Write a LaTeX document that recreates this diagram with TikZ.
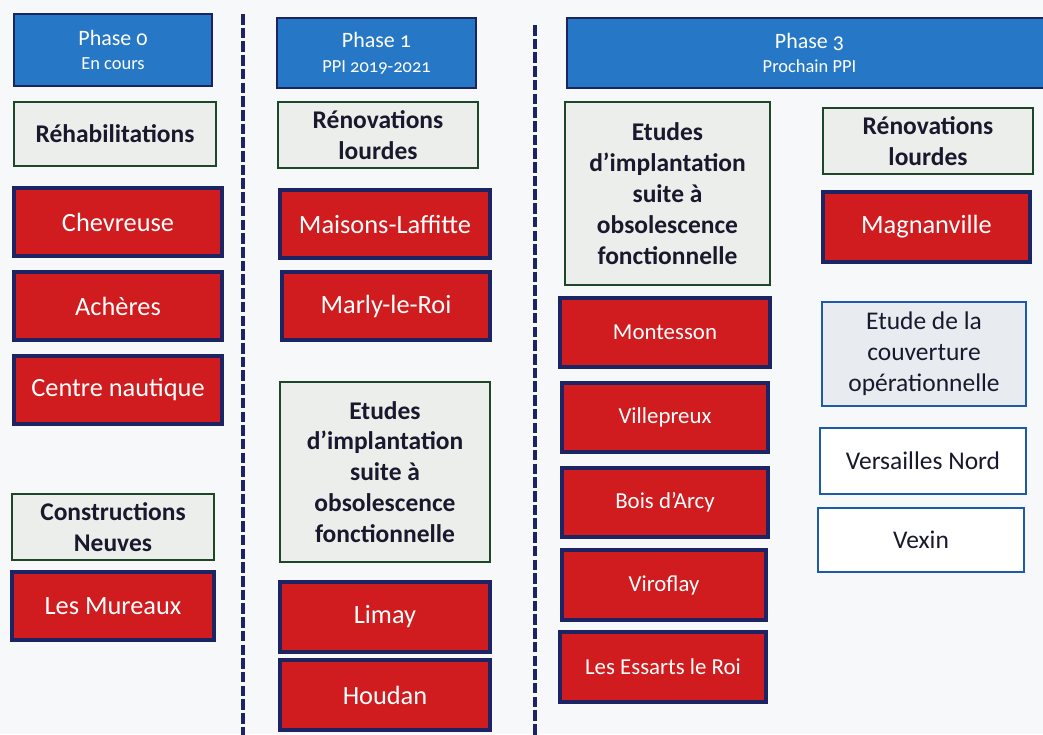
\documentclass[tikz,border=0pt]{standalone}
\usepackage{fontspec}
\setmainfont{Carlito}
\newfontfamily\headfont[Numbers=OldStyle]{Carlito}
\usepackage{tikz}

\definecolor{phaseblue}{RGB}{38,120,198}
\definecolor{navyline}{RGB}{28,36,100}
\definecolor{sitered}{RGB}{208,28,30}
\definecolor{studygray}{RGB}{236,238,235}
\definecolor{studygreen}{RGB}{30,70,40}
\definecolor{coverblue}{RGB}{30,90,170}
\definecolor{covergray}{RGB}{232,235,240}
\definecolor{textnavy}{RGB}{25,25,45}
\definecolor{pagebg}{RGB}{247,248,250}

\begin{document}
\begin{tikzpicture}[
    phase/.style={draw=navyline, fill=phaseblue, line width=1.6pt, text=white, align=center,
      font=\headfont\fontsize{12.5}{14}\selectfont, inner sep=0pt},
    site/.style={draw=navyline, fill=sitered, line width=1.8pt, text=white, align=center,
      font=\fontsize{15}{17.6}\selectfont, inner sep=0pt},
    smallsite/.style={site, font=\fontsize{13}{15}\selectfont},
    study/.style={draw=studygreen, fill=studygray, line width=1.6pt, text=textnavy, align=center,
      font=\bfseries\fontsize{14.5}{17.6}\selectfont, inner sep=0pt},
    cover/.style={study, draw=coverblue, fill=covergray, font=\fontsize{14.5}{17.6}\selectfont},
    station/.style={cover, fill=white},
    divider/.style={draw=navyline, line width=2.4pt, dash pattern=on 6pt off 1.8pt}
  ]
  \fill[pagebg] (0,0) rectangle (20.86,-14.68);
  \useasboundingbox (0,0) rectangle (20.86,-14.68);

  % separators between phases
  \coordinate (d1top) at (4.86,-0.28);
  \coordinate (d1bot) at (4.86,-14.80);
  \coordinate (d2top) at (10.70,-0.50);
  \coordinate (d2bot) at (10.70,-14.80);
  \draw[divider] (d1top) -- (d1bot);
  \draw[divider] (d2top) -- (d2bot);

  % phase 0
  \node[phase, minimum width=3.96cm, minimum height=1.44cm] (head0) at (2.26,-1.00)
    {Phase 0\\{\fontsize{10.5}{12}\selectfont En cours}};
  \node[study, minimum width=4.04cm, minimum height=1.28cm] (rehab) at (2.30,-2.68) {Réhabilitations};
  \node[site, minimum width=4.16cm, minimum height=1.36cm] (chevreuse) at (2.36,-4.44) {Chevreuse};
  \node[site, minimum width=4.16cm, minimum height=1.36cm] (acheres) at (2.36,-6.12) {Achères};
  \node[site, minimum width=4.16cm, minimum height=1.36cm] (nautique) at (2.36,-7.80) {Centre nautique};
  \node[study, minimum width=4.04cm, minimum height=1.32cm] (neuves) at (2.26,-10.54) {Constructions\\Neuves};
  \node[site, minimum width=4.04cm, minimum height=1.36cm] (mureaux) at (2.26,-12.12) {Les Mureaux};

  % phase 1
  \node[phase, minimum width=3.98cm, minimum height=1.40cm] (head1) at (7.53,-1.06)
    {Phase 1\\{\fontsize{10.5}{12}\selectfont PPI 2019-2021}};
  \node[study, minimum width=4.00cm, minimum height=1.32cm] (reno1) at (7.56,-2.70) {Rénovations\\lourdes};
  \node[site, minimum width=4.20cm, minimum height=1.36cm] (maisons) at (7.70,-4.48) {Maisons-Laffitte};
  \node[site, minimum width=4.16cm, minimum height=1.36cm] (marly) at (7.72,-6.12) {Marly-le-Roi};
  \node[study, minimum width=4.20cm, minimum height=3.60cm] (etudes1) at (7.70,-9.44)
    {Etudes\\d’implantation\\suite à\\obsolescence\\fonctionnelle};
  \node[site, minimum width=4.20cm, minimum height=1.40cm] (limay) at (7.70,-12.34) {Limay};
  \node[site, minimum width=4.20cm, minimum height=1.40cm] (houdan) at (7.70,-13.90) {Houdan};

  % phase 3
  \node[phase, minimum width=9.70cm, minimum height=1.40cm] (head3) at (16.19,-1.06)
    {Phase 3\\{\fontsize{10.5}{12}\selectfont Prochain PPI}};
  \node[study, minimum width=4.10cm, minimum height=3.66cm] (etudes3) at (13.35,-3.87)
    {Etudes\\d’implantation\\suite à\\obsolescence\\fonctionnelle};
  \node[smallsite, minimum width=4.20cm, minimum height=1.38cm] (montesson) at (13.30,-6.65) {Montesson};
  \node[smallsite, minimum width=4.12cm, minimum height=1.38cm] (villepreux) at (13.30,-8.35) {Villepreux};
  \node[smallsite, minimum width=4.12cm, minimum height=1.38cm] (boisdarcy) at (13.30,-10.05) {Bois d’Arcy};
  \node[smallsite, minimum width=4.08cm, minimum height=1.40cm] (viroflay) at (13.28,-11.70) {Viroflay};
  \node[smallsite, minimum width=4.12cm, minimum height=1.40cm] (essarts) at (13.26,-13.34) {Les Essarts le Roi};
  \node[study, minimum width=4.20cm, minimum height=1.32cm] (reno3) at (18.56,-2.82) {Rénovations\\lourdes};
  \node[site, minimum width=4.14cm, minimum height=1.40cm] (magnanville) at (18.53,-4.54) {Magnanville};
  \node[cover, minimum width=4.08cm, minimum height=2.08cm] (couverture) at (18.48,-7.08)
    {Etude de la\\couverture\\opérationnelle};
  \node[station, minimum width=4.12cm, minimum height=1.32cm] (versailles) at (18.46,-9.22) {Versailles Nord};
  \node[station, minimum width=4.12cm, minimum height=1.28cm] (vexin) at (18.42,-10.80) {Vexin};
\end{tikzpicture}
\end{document}
